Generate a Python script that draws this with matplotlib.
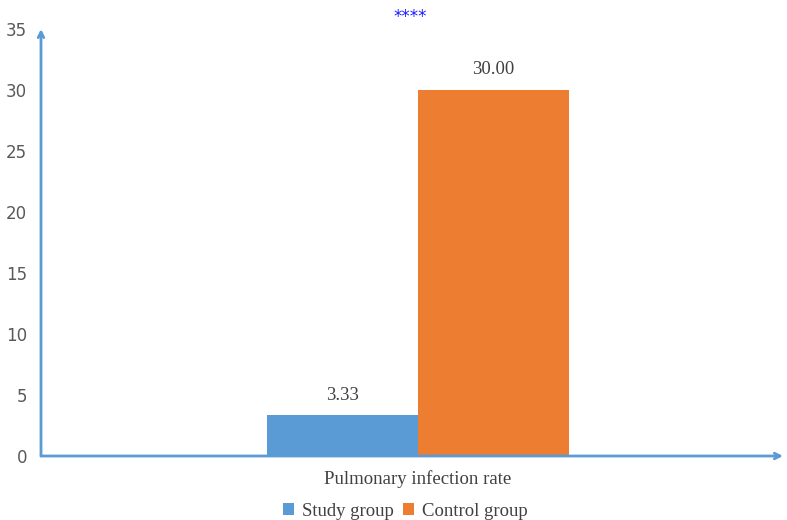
import matplotlib.pyplot as plt
from matplotlib.patches import Patch

groups = ['Study group', 'Control group']
rates = [3.33, 30.00]
colors = ['#5B9BD5', '#ED7D31']
category = 'Pulmonary infection rate'
y_ticks = [0, 5, 10, 15, 20, 25, 30, 35]

fig = plt.figure(figsize=(7.87, 5.2), dpi=100)
ax = fig.add_axes([41 / 787, 64 / 520, 742 / 787, 427 / 520])

offsets = [-0.5, 0.5]
for off, val, col in zip(offsets, rates, colors):
    ax.bar(off, val, width=1.0, color=col, zorder=2)
    ax.text(off, val + 0.95, f'{val:.2f}', ha='center', va='bottom',
            fontsize=13.5, color='#404040', family='Liberation Serif')

ax.set_xlim(-2.5, 2.42)
ax.set_ylim(0, 35)
ax.set_yticks(y_ticks)
ax.set_yticklabels([str(t) for t in y_ticks], fontsize=12, color='#595959')
ax.tick_params(axis='y', length=0, pad=10)
ax.set_xticks([])
for s in ax.spines.values():
    s.set_visible(False)

# axis lines drawn as arrows
axis_col = '#5B9BD5'
ax.annotate('', xy=(1, 0), xytext=(0, 0), xycoords='axes fraction',
            arrowprops=dict(arrowstyle='->', color=axis_col, lw=2, shrinkA=0, shrinkB=0))
ax.annotate('', xy=(0, 1), xytext=(0, 0), xycoords='axes fraction',
            arrowprops=dict(arrowstyle='->', color=axis_col, lw=2, shrinkA=0, shrinkB=0))

ax.text(0, -0.033, category, transform=ax.get_xaxis_transform(), ha='center', va='top',
        fontsize=13.5, color='#404040', family='Liberation Serif')
fig.text(410 / 787, 1 - 17 / 520, '****', ha='center', va='center',
         fontsize=12, color='#1a1aff')

handles = [Patch(facecolor=c, label=g) for g, c in zip(groups, colors)]
fig.legend(handles=handles, loc='center', bbox_to_anchor=(405 / 787, 1 - 511 / 520), ncol=2,
           frameon=False, prop={'family': 'Liberation Serif', 'size': 13.5},
           handlelength=0.6, handleheight=0.6, handletextpad=0.4, columnspacing=0.5,
           labelcolor='#404040')

fig.savefig('out.png', dpi=100)
